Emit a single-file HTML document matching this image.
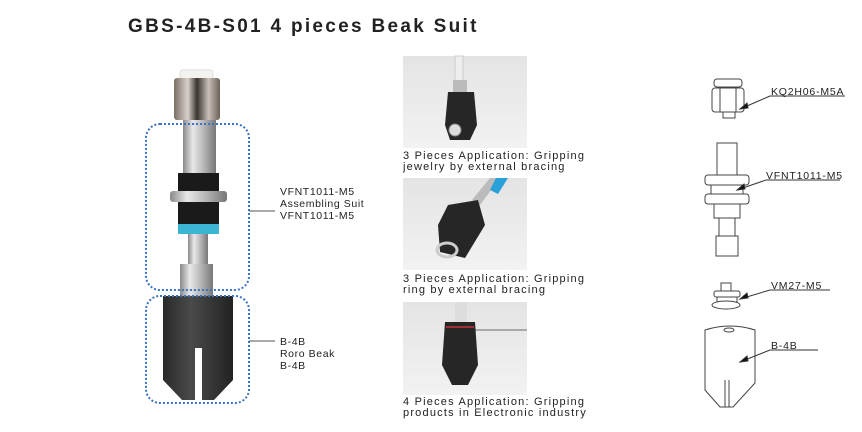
<!DOCTYPE html>
<html><head><meta charset="utf-8"><style>
html,body{margin:0;padding:0;background:#fff}
svg{display:block}
text{font-family:"Liberation Sans",sans-serif;fill:#222}
.s{font-size:11px;letter-spacing:1.2px}
.l{font-size:10.5px;letter-spacing:0.6px}
.r{font-size:10.5px;letter-spacing:0.8px}
</style></head><body>
<svg width="862" height="432" viewBox="0 0 862 432" xmlns="http://www.w3.org/2000/svg">
<defs>
<linearGradient id="met" x1="0" x2="1"><stop offset="0" stop-color="#8a8a8a"/><stop offset=".3" stop-color="#e8e8e8"/><stop offset=".6" stop-color="#bbb"/><stop offset="1" stop-color="#777"/></linearGradient>
<linearGradient id="nut" x1="0" x2="1"><stop offset="0" stop-color="#7a6e64"/><stop offset=".3" stop-color="#d8d2cc"/><stop offset=".5" stop-color="#3a3430"/><stop offset=".75" stop-color="#c8c0b8"/><stop offset="1" stop-color="#6a6058"/></linearGradient>
<linearGradient id="blk" x1="0" x2="1"><stop offset="0" stop-color="#2a2a2a"/><stop offset=".4" stop-color="#4a4a4a"/><stop offset="1" stop-color="#222"/></linearGradient>
<linearGradient id="bg" x1="0" y1="0" x2="0" y2="1"><stop offset="0" stop-color="#e4e4e4"/><stop offset="1" stop-color="#f2f2f2"/></linearGradient>
</defs>
<text x="128" y="32" font-size="19" font-weight="bold" fill="#111" letter-spacing="2.3">GBS-4B-S01  4 pieces Beak Suit</text>

<rect x="180" y="70" width="33" height="9" rx="3" fill="#f2f2ee" stroke="#ddd"/>
<rect x="174" y="78" width="46" height="42" rx="3" fill="url(#nut)"/>
<rect x="183" y="120" width="33" height="54" fill="url(#met)"/>
<rect x="178" y="173" width="41" height="18" fill="#1a1a1a"/>
<rect x="170" y="191" width="57" height="11" rx="3" fill="url(#met)"/>
<rect x="178" y="202" width="41" height="22" fill="#1a1a1a"/>
<rect x="178" y="224" width="41" height="10" fill="#3cb4d4"/>
<rect x="188" y="234" width="20" height="31" fill="url(#met)"/>
<rect x="180" y="264" width="33" height="32" fill="url(#met)"/>
<path d="M163 296 H233 V380 L214 400 H202 V348 H195 V400 H182 L163 380 Z" fill="url(#blk)"/>
<rect x="146" y="124" width="103" height="166" rx="14" fill="none" stroke="#3c72c4" stroke-width="2" stroke-dasharray="2 2"/>
<rect x="146" y="296" width="103" height="107" rx="14" fill="none" stroke="#3c72c4" stroke-width="2" stroke-dasharray="2 2"/>
<line x1="249" y1="211" x2="275" y2="211" stroke="#555"/>
<line x1="249" y1="341" x2="275" y2="341" stroke="#555"/>
<text class="l"><tspan x="280" y="195">VFNT1011-M5</tspan><tspan x="280" y="207">Assembling Suit</tspan><tspan x="280" y="219">VFNT1011-M5</tspan></text>
<text class="l"><tspan x="280" y="345">B-4B</tspan><tspan x="280" y="357">Roro Beak</tspan><tspan x="280" y="369">B-4B</tspan></text>

<rect x="403" y="56" width="124" height="92" fill="url(#bg)"/>
<rect x="455" y="56" width="8" height="25" fill="#eee" stroke="#ccc"/>
<rect x="453" y="80" width="14" height="12" fill="#bbb"/>
<path d="M448 92 H474 L477 125 L470 140 H450 L445 125 Z" fill="#262626"/>
<circle cx="455" cy="130" r="6" fill="#ddd" stroke="#888"/>
<rect x="403" y="178" width="124" height="92" fill="url(#bg)"/>
<path d="M490 178 L500 178 L480 205 L472 200 Z" fill="#bbb"/>
<path d="M496 178 H508 L498 194 L490 190 Z" fill="#2aa0d8"/>
<path d="M448 205 L478 200 L485 225 L465 258 L440 252 L438 225 Z" fill="#262626"/>
<ellipse cx="447" cy="250" rx="10" ry="7" fill="none" stroke="#ccc" stroke-width="3"/>
<rect x="403" y="302" width="124" height="93" fill="url(#bg)"/>
<rect x="455" y="302" width="12" height="20" fill="#ddd"/>
<line x1="470" y1="330" x2="527" y2="330" stroke="#aaa" stroke-width="2"/>
<path d="M445 322 H475 L478 365 L468 385 H452 L442 365 Z" fill="#262626"/>
<line x1="446" y1="327" x2="474" y2="327" stroke="#c33" stroke-width="1.5"/>
<text class="s"><tspan x="403" y="159">3 Pieces Application: Gripping</tspan><tspan x="403" y="170">jewelry by external bracing</tspan></text>
<text class="s"><tspan x="403" y="282">3 Pieces Application: Gripping</tspan><tspan x="403" y="293">ring by external bracing</tspan></text>
<text class="s"><tspan x="403" y="405">4 Pieces Application: Gripping</tspan><tspan x="403" y="416">products in Electronic industry</tspan></text>

<g fill="#fff" stroke="#444" stroke-width="1">
<rect x="714" y="79" width="28" height="8" rx="3"/>
<rect x="712" y="88" width="32" height="24" rx="3"/>
<line x1="720" y1="88" x2="720" y2="112"/><line x1="736" y1="88" x2="736" y2="112"/>
<rect x="723" y="112" width="12" height="6"/>
<rect x="717" y="143" width="20" height="32"/>
<rect x="705" y="175" width="44" height="10" rx="3"/>
<rect x="711" y="185" width="32" height="9"/>
<rect x="705" y="194" width="44" height="10" rx="3"/>
<rect x="714" y="204" width="26" height="14"/>
<rect x="719" y="218" width="16" height="18"/>
<rect x="716" y="236" width="22" height="20"/>
<rect x="721" y="283" width="10" height="8"/>
<rect x="714" y="291" width="26" height="6" rx="2"/>
<rect x="717" y="297" width="20" height="5"/>
<ellipse cx="726" cy="305" rx="14" ry="4"/>
<path d="M705 330 Q730 322 755 330 V383 L733 407 H720 L705 390 Z"/>
<line x1="725" y1="380" x2="725" y2="407"/><line x1="729" y1="380" x2="729" y2="407"/>
<ellipse cx="729" cy="330" rx="5" ry="2"/>
</g>
<g stroke="#333" stroke-width="1" fill="#111">
<line x1="740" y1="109" x2="770" y2="96"/><line x1="770" y1="96" x2="845" y2="96"/><path d="M740 109 l7 -6 l1 5z"/>
<line x1="737" y1="190" x2="766" y2="180"/><line x1="766" y1="180" x2="840" y2="180"/><path d="M737 190 l7 -6 l1 5z"/>
<line x1="740" y1="299" x2="770" y2="290"/><line x1="770" y1="290" x2="830" y2="290"/><path d="M740 299 l7 -6 l1 5z"/>
<line x1="740" y1="362" x2="770" y2="350"/><line x1="770" y1="350" x2="818" y2="350"/><path d="M740 362 l7 -6 l1 5z"/>
</g>
<text class="r"><tspan x="771" y="95">KQ2H06-M5A</tspan></text>
<text class="r"><tspan x="766" y="179">VFNT1011-M5</tspan></text>
<text class="r"><tspan x="771" y="289">VM27-M5</tspan></text>
<text class="r"><tspan x="771" y="349">B-4B</tspan></text>
</svg>
</body></html>
